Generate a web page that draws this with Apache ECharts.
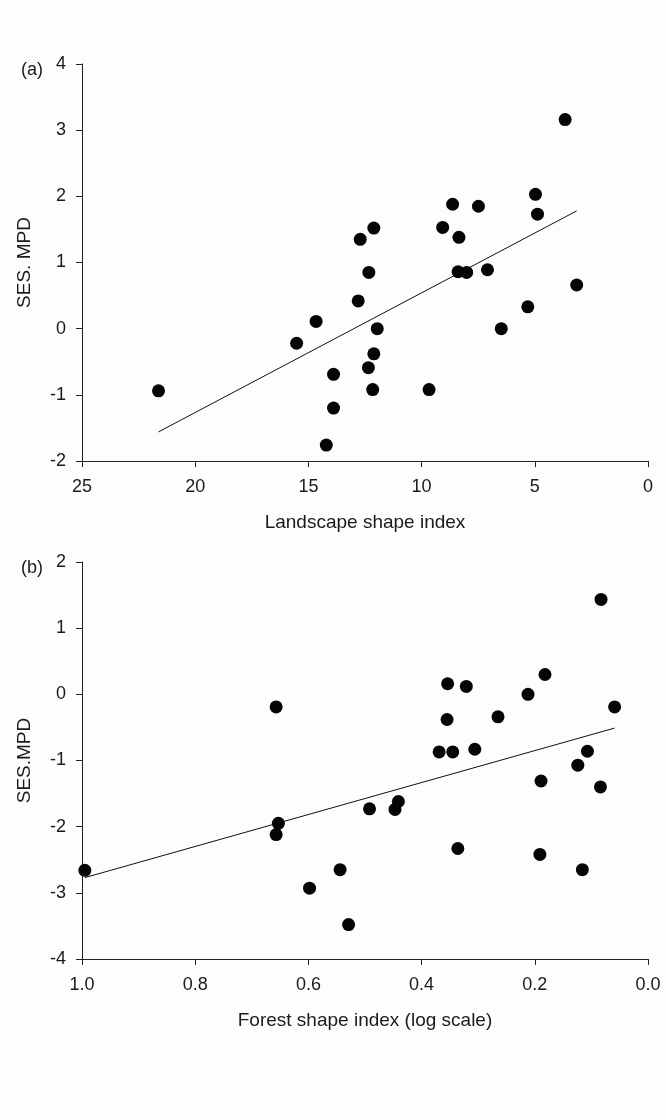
<!DOCTYPE html>
<html><head><meta charset="utf-8">
<script src="https://cdn.jsdelivr.net/npm/echarts@6/dist/echarts.min.js"></script>
<style>html,body{margin:0;padding:0;background:#fdfdfb}#c{width:666px;height:1120px}</style>
</head><body><div id="c"></div>
<script>
// Panel (a): Landscape shape index vs SES.MPD
const landscapeX = [3.66,4.97,4.88,3.15,5.31,8.63,7.49,9.07,8.35,8.39,8.01,7.09,12.11,12.71,12.33,12.80,14.66,15.52,11.96,6.48,12.11,12.35,13.89,12.16,9.67,21.62,13.89,14.21];
const landscapeY = [3.16,2.03,1.73,0.66,0.33,1.88,1.85,1.53,1.38,0.86,0.85,0.89,1.52,1.35,0.85,0.42,0.11,-0.22,0.00,0.00,-0.38,-0.59,-0.69,-0.92,-0.92,-0.94,-1.20,-1.76];
const fitAX = [21.62, 3.15];
const fitAY = [-1.56, 1.78];
const ticksAX = [25,20,15,10,5,0];
const ticksAY = [-2,-1,0,1,2,3,4];

// Panel (b): Forest shape index (log scale) vs SES.MPD
const forestX = [0.083,0.182,0.354,0.321,0.212,0.657,0.059,0.355,0.265,0.369,0.345,0.306,0.107,0.124,0.189,0.084,0.441,0.447,0.492,0.653,0.657,0.336,0.191,0.995,0.544,0.116,0.598,0.529];
const forestY = [1.435,0.30,0.16,0.12,0.00,-0.19,-0.19,-0.38,-0.34,-0.87,-0.87,-0.83,-0.86,-1.07,-1.31,-1.40,-1.62,-1.74,-1.73,-1.95,-2.12,-2.33,-2.42,-2.66,-2.65,-2.65,-2.93,-3.48];
const fitBX = [0.995, 0.059];
const fitBY = [-2.77, -0.51];
const ticksBX = [1.0,0.8,0.6,0.4,0.2,0.0];
const ticksBY = [-4,-3,-2,-1,0,1,2];

const FONT = 'Liberation Sans, Arial, sans-serif';
const TXT = '#1a1a1a';
const zip = (xs, ys) => xs.map((x, i) => [x, ys[i]]);

function xAxis(idx, min, max, interval, name, fmt) {
  return {
    type: 'value', gridIndex: idx, min, max, interval, inverse: true,
    name, nameLocation: 'middle', nameGap: 52,
    nameTextStyle: {fontFamily: FONT, fontSize: 19, color: TXT},
    axisLine: {show: true, onZero: false, lineStyle: {color: '#222', width: 1}},
    axisTick: {show: true, length: 6, lineStyle: {color: '#222'}},
    axisLabel: {fontFamily: FONT, fontSize: 18, color: TXT, margin: 17, formatter: fmt},
    splitLine: {show: false}
  };
}
function yAxis(idx, min, max, name) {
  return {
    type: 'value', gridIndex: idx, min, max, interval: 1,
    name, nameLocation: 'middle', nameGap: 48,
    nameTextStyle: {fontFamily: FONT, fontSize: 19, color: TXT},
    axisLine: {show: true, onZero: false, lineStyle: {color: '#222', width: 1}},
    axisTick: {show: true, length: 6, lineStyle: {color: '#222'}},
    axisLabel: {fontFamily: FONT, fontSize: 18, color: TXT, margin: 16},
    splitLine: {show: false}
  };
}

const chart = echarts.init(document.getElementById('c'), null, {renderer: 'canvas'});
chart.setOption({
  backgroundColor: '#fdfdfb',
  animation: false,
  title: [
    {text: '(a)', left: 16, top: 56, textStyle: {fontFamily: FONT, fontSize: 18, fontWeight: 'normal', color: TXT}},
    {text: '(b)', left: 16, top: 554, textStyle: {fontFamily: FONT, fontSize: 18, fontWeight: 'normal', color: TXT}}
  ],
  grid: [
    {left: 82, right: 18, top: 64, height: 397},
    {left: 82, right: 18, top: 562, height: 397}
  ],
  xAxis: [
    xAxis(0, ticksAX[ticksAX.length-1], ticksAX[0], 5, 'Landscape shape index', v => String(v)),
    xAxis(1, ticksBX[ticksBX.length-1], ticksBX[0], 0.2, 'Forest shape index (log scale)', v => v.toFixed(1))
  ],
  yAxis: [
    yAxis(0, ticksAY[0], ticksAY[ticksAY.length-1], 'SES. MPD'),
    yAxis(1, ticksBY[0], ticksBY[ticksBY.length-1], 'SES.MPD')
  ],
  series: [
    {type: 'line', xAxisIndex: 0, yAxisIndex: 0, data: zip(fitAX, fitAY), symbol: 'none',
     lineStyle: {color: '#111', width: 1}, z: 2},
    {type: 'scatter', xAxisIndex: 0, yAxisIndex: 0, data: zip(landscapeX, landscapeY),
     symbol: 'circle', symbolSize: 13, itemStyle: {color: '#050505', opacity: 1}, z: 3},
    {type: 'line', xAxisIndex: 1, yAxisIndex: 1, data: zip(fitBX, fitBY), symbol: 'none',
     lineStyle: {color: '#111', width: 1}, z: 2},
    {type: 'scatter', xAxisIndex: 1, yAxisIndex: 1, data: zip(forestX, forestY),
     symbol: 'circle', symbolSize: 13, itemStyle: {color: '#050505', opacity: 1}, z: 3}
  ]
});
</script></body></html>
